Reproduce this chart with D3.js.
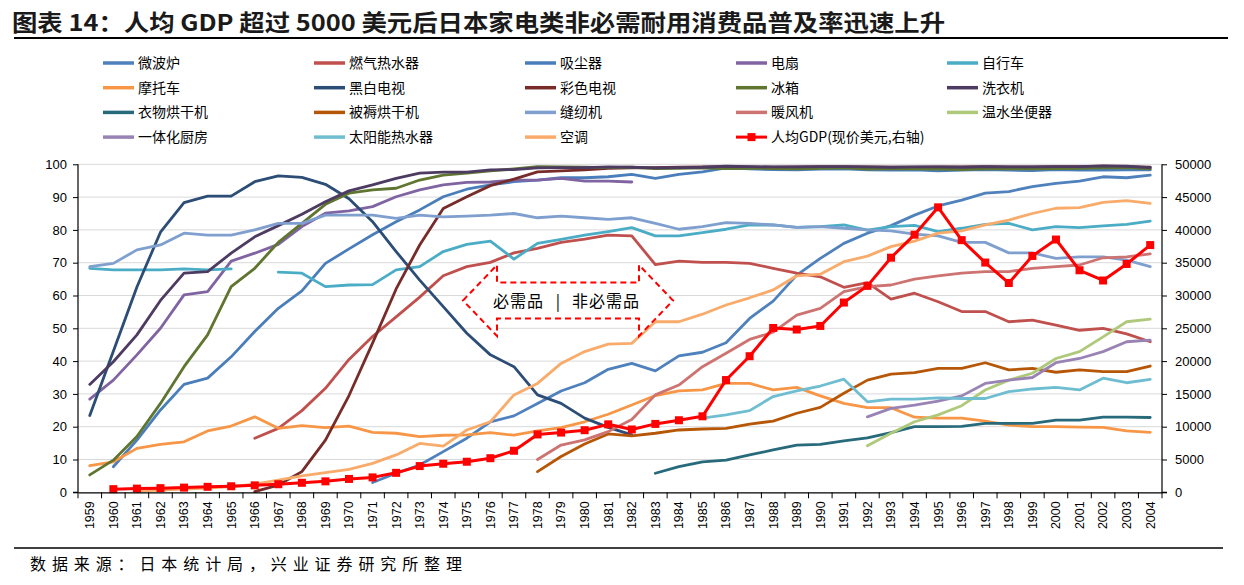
<!DOCTYPE html>
<html><head><meta charset="utf-8">
<script src="https://cdn.jsdelivr.net/npm/d3@7"></script>
<style>body{margin:0;background:#fff}svg{display:block}</style>
</head><body>
<svg id="chart" width="1244" height="585"></svg>
<script>
const _ = null;
const years = [1959,1960,1961,1962,1963,1964,1965,1966,1967,1968,1969,1970,1971,1972,1973,1974,1975,1976,1977,1978,1979,1980,1981,1982,1983,1984,1985,1986,1987,1988,1989,1990,1991,1992,1993,1994,1995,1996,1997,1998,1999,2000,2001,2002,2003,2004];
const leftTicks = [0,10,20,30,40,50,60,70,80,90,100];
const rightTicks = [0,5000,10000,15000,20000,25000,30000,35000,40000,45000,50000];

// 普及率 (%), 1959..2004
const microwave = [_,_,_,_,_,_,_,_,_,_,_,_,3,5.8,8.3,12.4,16.5,21.5,23.3,27.1,30.9,33.4,37.5,39.3,37,41.6,42.7,45.6,53,58.3,66.2,71.3,75.9,79,81.3,84.5,87.3,89.1,91.2,91.7,93.2,94.2,94.9,96.2,95.9,96.7];
const gasHeater = [_,_,_,_,_,_,_,16.5,19.5,24.9,31.7,40.5,47.5,53.5,59.5,66,68.8,70.1,73,74.4,76.2,77.2,78.4,78.2,69.4,70.5,70.1,70.1,69.8,68.3,66.8,65.7,62.5,63.9,58.9,60.7,58.1,55.1,55.1,52,52.5,51,49.4,50,48.3,45.9];
const vacuum = [_,7.8,15.9,25.1,32.9,34.8,41.3,49,56.1,61.4,69.8,74.2,78.5,82.5,86.1,90.1,92.4,93.7,94.7,95.2,95.9,95.9,96.2,96.9,95.7,96.9,97.7,98.9,98.6,98.4,98.3,98.5,98.6,98.3,98.2,98.3,98.0,98.2,98.4,98.2,98.1,98.4,98.2,98.2,98.3,98.3];
const fan = [28.4,34.2,41.9,50,60.2,61.2,70.5,72.9,75.6,81,85.1,85.8,87.1,90.1,92.2,93.7,94.5,94.6,95.2,95.2,95.7,94.9,94.9,94.6,_,_,_,_,_,_,_,_,_,_,_,_,_,_,_,_,_,_,_,_,_,_];
const bicycle = [68.3,67.8,67.8,67.8,68.1,67.8,68.1,_,67.1,66.8,62.7,63.2,63.3,67.8,68.8,73.4,75.6,76.6,71.1,75.9,77.1,78.4,79.5,80.7,78.2,78.2,79.2,80.2,81.5,81.5,80.8,81,81.5,79.9,81,81.4,79.5,80.5,81.7,82,80,81,80.7,81.2,81.7,82.7];
const motorcycle = [8.1,9.3,13.4,14.6,15.4,18.7,20.2,23,19.5,20.3,19.7,20.2,18.3,18,17,17.4,17.5,18.2,17.4,18.7,19.7,21.5,23.8,26.6,29.5,30.9,31.2,33.2,33.2,31.2,32,29.4,27.1,25.8,25.8,22.9,22.6,22.6,21.7,20.5,20,20,19.9,19.8,18.7,18.3];
const bwTV = [23.4,43,62.6,79.3,88.3,90.3,90.3,94.7,96.5,96,93.9,89.5,82.5,73.4,64.7,56.6,48.5,41.9,38.3,29.7,27.1,22.6,19.8,17.5,_,_,_,_,_,_,_,_,_,_,_,_,_,_,_,_,_,_,_,_,_,_];
const colorTV = [_,_,_,_,_,_,_,0.2,2.2,6.3,15.9,29.5,45.5,62,75.4,86.5,90.1,93.5,95.5,97.7,98,98.3,98.8,98.9,99,99.1,99.2,99.3,99.2,99.1,99.2,99.3,99.3,99.2,99.1,99.1,99.2,99.2,99.3,99.2,99.2,99.3,99.3,99.4,99.3,99.1];
const fridge = [5.3,9.8,17,27.1,38.3,48,62.7,68.3,76.2,82,87.8,91.2,92.2,92.7,95.2,96.7,97.3,98,98.6,99.3,99.2,99.1,99.0,99.1,98.7,98.8,98.9,98.7,98.8,98.7,98.6,98.8,98.9,98.5,98.7,98.6,98.5,98.4,98.6,98.6,98.6,98.7,98.8,98.9,99.0,98.6];
const washer = [32.9,39.8,48,58.5,66.8,67.3,72.9,77.9,81.3,84.8,88.6,91.9,93.7,95.7,97.3,97.6,97.6,98.3,98.4,98.9,99,99,99.2,99.1,98.9,99,99.1,99.4,99.3,99.2,99.2,99.3,99.3,99.2,99.1,99.2,99.2,99.1,99.3,99.2,99.2,99.3,99.3,99.5,99.4,99.0];
const clothesDryer = [_,_,_,_,_,_,_,_,_,_,_,_,_,_,_,_,_,_,_,_,_,_,_,_,5.8,7.8,9.3,9.8,11.4,12.9,14.4,14.6,15.7,16.6,18.2,20,20,20.1,21,21,21,22,22,22.9,22.9,22.8];
const futonDryer = [_,_,_,_,_,_,_,_,_,_,_,_,_,_,_,_,_,_,_,6.3,10.9,14.7,17.8,17.2,18,19,19.3,19.5,20.8,21.7,24.1,25.9,30.2,34.2,36,36.5,37.8,37.8,39.5,37.3,37.8,36.6,37.3,36.8,36.8,38.5];
const sewing = [68.8,69.8,73.9,75.4,79,78.4,78.4,80,82,82,84.5,84.5,84.5,83.5,84.5,84,84.2,84.5,85,83.7,84.2,83.7,83.2,83.7,82,80.2,81,82.2,82,81.5,80.8,81,80.5,80,79.7,78.7,78.2,76.2,76.2,73,73,71.3,71.8,71.8,70.8,68.8];
const fanHeater = [_,_,_,_,_,_,_,_,_,_,_,_,_,_,_,_,_,_,_,10,14.4,16,18.5,22.2,29.7,32.7,38.3,42.4,46.6,48.8,54,56.1,61.2,62.7,63.2,65,66,66.8,67.3,67.3,68.3,68.8,69.3,71.5,71.8,72.7];
const toiletSeat = [_,_,_,_,_,_,_,_,_,_,_,_,_,_,_,_,_,_,_,_,_,_,_,_,_,_,_,_,_,_,_,_,_,14.2,18,21.5,23.6,26.4,31.2,34.2,36.3,40.8,42.9,47.4,52,52.8];
const kitchen = [_,_,_,_,_,_,_,_,_,_,_,_,_,_,_,_,_,_,_,_,_,_,_,_,_,_,_,_,_,_,_,_,_,23,25.6,26.6,27.8,29.4,33.2,34.2,35,39.5,40.8,42.9,45.9,46.4];
const solarHeater = [_,_,_,_,_,_,_,_,_,_,_,_,_,_,_,_,_,_,_,_,_,_,_,_,_,_,22.6,23.6,24.9,29.2,30.9,32.4,34.5,27.6,28.4,28.4,28.8,28.6,28.6,30.7,31.5,32,31.2,34.8,33.4,34.4];
const aircon = [_,_,0.4,0.7,1,1.3,1.7,2.5,3.7,5,6,7,8.8,11.4,14.9,14.1,19,21.5,29.7,33.2,39.3,42.9,45.2,45.4,52,52,54.3,57.1,59.3,61.7,66,66.5,70.3,72,74.9,76.6,79,79.7,81.5,83,85,86.6,86.8,88.4,88.9,88.1];
// 人均GDP (现价美元)
const gdp = [_,479,563,633,717,835,919,1059,1229,1450,1669,2037,2272,2967,3997,4354,4659,5197,6335,8821,9105,9465,10361,9578,10425,10984,11584,17112,20745,25051,24813,25359,28925,31465,35766,39269,43440,38437,35022,31903,36027,38532,33846,32289,34808,37689];

const seriesNames = ["微波炉","燃气热水器","吸尘器","电扇","自行车","摩托车","黑白电视","彩色电视","冰箱","洗衣机","衣物烘干机","被褥烘干机","缝纫机","暖风机","温水坐便器","一体化厨房","太阳能热水器","空调"];
const seriesValues = [microwave,gasHeater,vacuum,fan,bicycle,motorcycle,bwTV,colorTV,fridge,washer,clothesDryer,futonDryer,sewing,fanHeater,toiletSeat,kitchen,solarHeater,aircon];
const seriesColors = ["#4F81BD","#C0504D","#4A7EBB","#8064A2","#4BACC6","#F79646","#2C4D75","#772C2A","#5F7530","#4D3B62","#276A7C","#B65708","#7F9FCF","#CD7371","#AFC97A","#9983B5","#6FBDD1","#F9AB6B"];
const gdpName = "人均GDP(现价美元,右轴)";
const titleText = "图表 14：人均 GDP 超过 5000 美元后日本家电类非必需耐用消费品普及率迅速上升";
const sourceText = "数据来源：日本统计局，兴业证券研究所整理";

const svg = d3.select("#chart");
const cjk = "'Noto Sans CJK SC', 'Noto Sans', sans-serif";
const num = "'Liberation Sans', Arial, sans-serif";

const L = 78, R = 1162, T = 164.3, B = 492.3;
const x = d3.scaleBand().domain(years).range([L, R]).padding(0);
const y = d3.scaleLinear().domain([0, 100]).range([B, T]);
const y2 = d3.scaleLinear().domain([0, 50000]).range([B, T]);

// title
svg.append("text").attr("x", 12).attr("y", 31).attr("font-family", cjk).attr("font-weight", 700)
  .attr("font-size", 23).attr("fill", "#1a1a1a").attr("textLength", 933).attr("lengthAdjust", "spacingAndGlyphs").text(titleText);
svg.append("line").attr("x1", 14).attr("x2", 1228).attr("y1", 38).attr("y2", 38).attr("stroke", "#000").attr("stroke-width", 2);

// legend
const legendItems = seriesNames.map((n, i) => ({name: n, color: seriesColors[i], gdp: false}));
legendItems.push({name: gdpName, color: "#FF0000", gdp: true});
const lg = svg.append("g").attr("class", "legend");
legendItems.forEach((d, i) => {
  const c = i % 5, r = Math.floor(i / 5);
  const lx = 103 + 211 * c, ly = 63 + 24.7 * r;
  const g = lg.append("g").attr("transform", `translate(${lx},${ly})`);
  g.append("line").attr("x1", 0).attr("x2", 31).attr("y1", 0).attr("y2", 0)
    .attr("stroke", d.color).attr("stroke-width", d.gdp ? 3 : 3.5);
  if (d.gdp) g.append("rect").attr("x", 11.5).attr("y", -4).attr("width", 8).attr("height", 8).attr("fill", d.color);
  g.append("text").attr("x", 35).attr("y", 5).attr("font-family", cjk).attr("font-size", 14)
    .attr("fill", "#000").text(d.name);
});

// gridlines
svg.append("g").selectAll("line").data(leftTicks.filter(t => t > 0)).join("line")
  .attr("x1", L).attr("x2", R).attr("y1", d => y(d)).attr("y2", d => y(d))
  .attr("stroke", "#D9D9D9").attr("stroke-width", 1);

// series lines
const line = d3.line().defined(d => d.v !== null).x(d => x(d.year) + x.bandwidth() / 2).y(d => y(d.v));
const lines = svg.append("g").attr("fill", "none").attr("stroke-linejoin", "round").attr("stroke-linecap", "round");
seriesValues.forEach((vals, i) => {
  const pts = years.map((yr, j) => ({year: yr, v: vals[j]}));
  lines.append("path").datum(pts).attr("d", line).attr("stroke", seriesColors[i]).attr("stroke-width", 2.8);
});

// annotation arrow
const ax0 = 463, ax1 = 673, ahw = 34, ay = 300.5, shaft = 18, head = 35.5;
const arrowPts = [[ax0, ay],[ax0+ahw, ay-head],[ax0+ahw, ay-shaft],[ax1-ahw, ay-shaft],[ax1-ahw, ay-head],[ax1, ay],[ax1-ahw, ay+head],[ax1-ahw, ay+shaft],[ax0+ahw, ay+shaft],[ax0+ahw, ay+head]];
svg.append("polygon").attr("points", arrowPts.map(p => p.join(",")).join(" "))
  .attr("fill", "#fff").attr("stroke", "#FF0000").attr("stroke-width", 2).attr("stroke-dasharray", "6,4");
const annFont = {"font-family": cjk, "font-size": 16, "fill": "#000"};
const t1 = svg.append("text").attr("x", 493).attr("y", ay + 6).text("必需品").attr("letter-spacing", 1);
const t2 = svg.append("text").attr("x", 558).attr("y", ay + 6).attr("text-anchor", "middle").text("|");
const t3 = svg.append("text").attr("x", 572).attr("y", ay + 6).text("非必需品").attr("letter-spacing", 1);
[t1, t2, t3].forEach(t => Object.entries(annFont).forEach(([k, v]) => t.attr(k, v)));

// GDP line
const gdpPts = years.map((yr, j) => ({year: yr, v: gdp[j]})).filter(d => d.v !== null);
svg.append("path").datum(gdpPts).attr("fill", "none").attr("stroke", "#FF0000").attr("stroke-width", 3)
  .attr("stroke-linejoin", "round")
  .attr("d", d3.line().x(d => x(d.year) + x.bandwidth() / 2).y(d => y2(d.v)));
svg.append("g").selectAll("rect").data(gdpPts).join("rect")
  .attr("x", d => x(d.year) + x.bandwidth() / 2 - 4).attr("y", d => y2(d.v) - 4)
  .attr("width", 8).attr("height", 8).attr("fill", "#FF0000");

// axes
const axL = svg.append("g").attr("transform", `translate(${L},0)`)
  .call(d3.axisLeft(y).tickValues(leftTicks).tickSize(5).tickPadding(6));
const axR = svg.append("g").attr("transform", `translate(${R},0)`)
  .call(d3.axisRight(y2).tickValues(rightTicks).tickFormat(d3.format("d")).tickSize(5).tickPadding(8));
const axB = svg.append("g").attr("transform", `translate(0,${B})`)
  .call(d3.axisBottom(x).tickSize(0).tickSizeOuter(0));
axB.selectAll("text").attr("transform", "rotate(-90)").attr("x", -9).attr("y", 0).attr("dy", "0.35em")
  .attr("text-anchor", "end").attr("font-size", 12.5);
// boundary ticks
svg.append("g").selectAll("line").data(years.map(yr => x(yr)).concat([R])).join("line")
  .attr("x1", d => d).attr("x2", d => d).attr("y1", B).attr("y2", B + 6).attr("stroke", "#000");
[axL, axR, axB].forEach(a => {
  a.selectAll("path.domain").attr("stroke", "#000").attr("stroke-width", 1.2);
  a.selectAll(".tick line").attr("stroke", "#000");
  a.selectAll("text").attr("font-family", num).attr("fill", "#000");
});
axL.selectAll("text").attr("font-size", 13);
axR.selectAll("text").attr("font-size", 13);
axL.select("path.domain").attr("d", `M-5,${B}H0V${T}`);
axR.select("path.domain").attr("d", `M5,${B}H0V${T}`);

// footer
svg.append("line").attr("x1", 14).attr("x2", 1223).attr("y1", 548).attr("y2", 548).attr("stroke", "#000").attr("stroke-width", 1.5);
svg.append("text").attr("x", 30).attr("y", 570).attr("font-family", cjk).attr("font-size", 16)
  .attr("fill", "#000").attr("textLength", 432).attr("lengthAdjust", "spacing").text(sourceText);
</script>
</body></html>
